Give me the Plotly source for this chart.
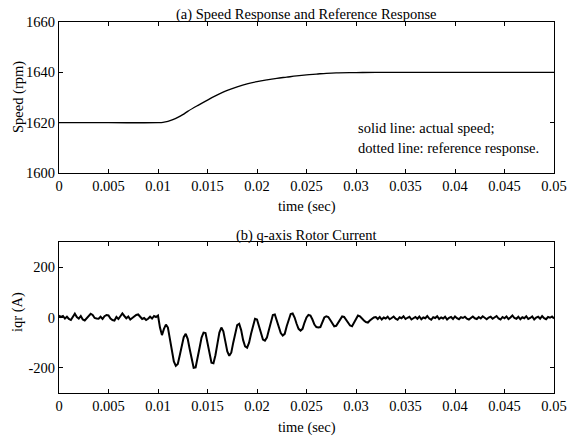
import numpy as np
import plotly.graph_objects as go
from plotly.subplots import make_subplots

# (a) rotor speed response
t_speed = [0, 0.005, 0.0100, 0.0105, 0.0110, 0.0115, 0.0120, 0.0125, 0.0130, 0.0140,
           0.0150, 0.0160, 0.0170, 0.0180, 0.0190, 0.0200, 0.0210, 0.0220, 0.0230, 0.0240,
           0.0250, 0.0260, 0.0270, 0.0280, 0.0300, 0.0320, 0.0350, 0.0400, 0.0450, 0.0500]
speed = [1620, 1620, 1620, 1620.1, 1620.5, 1621.2, 1622.1, 1623.2, 1624.5, 1626.8,
         1629.0, 1631.0, 1632.8, 1634.2, 1635.4, 1636.3, 1637.0, 1637.6, 1638.1, 1638.6,
         1639.0, 1639.3, 1639.6, 1639.8, 1639.9, 1640.0, 1640.0, 1640.0, 1640.0, 1640.0]

# (b) q-axis rotor current, sampled every 0.2 ms from 0 to 0.05 s
iqr_pre = [8, 2, 6, -4, 3, -6, -10, 4, 15, 2,
           -4, 6, -8, -12, -2, 5, 15, 10, -2, -4,
           -5, 3, -6, 5, 10, 8, -4, -10, -12, 2,
           -6, 5, 16, 6, -3, 4, -8, -2, 5, 10,
           12, 4, -6, -2, -10, -5, 3, -4, 6, 2, 8]
iqr_step = [-40, -70, -45, -28, -40, -90, -140, -175, -192, -185,
            -150, -110, -78, -65, -85, -125, -170, -200, -198, -165,
            -120, -80, -60, -62, -100, -145, -180, -182, -150, -105,
            -60, -40, -55, -95, -135, -152, -140, -100, -60, -30,
            -25, -50, -90, -115, -120, -100, -65, -30, -5, -8,
            -35, -65, -88, -92, -80, -50, -15, 10, 12, -10,
            -40, -62, -72, -65, -35, -5, 14, 16, 0, -25,
            -45, -52, -45, -20, 0, 10, 8, -8, -28, -38,
            -40, -38, -20, 0, 5, 2, -10, -25, -35, -33,
            -20, -5, 4, 2, -10, -22, -32, -35, -22, -5,
            8, 5, -5, -12, -18, -20, -12, -5, 0, 2]
iqr_steady = [-6, 2, -8, 0, -4, 3, -7, -2, 4, -5,
              -9, 1, -3, 5, -6, -1, 3, -8, -2, 2,
              -5, 4, -7, 0, -3, 6, -4, -9, 1, -2,
              5, -6, 0, -4, 3, -8, -1, 2, -6, 4,
              -3, -7, 1, -2, 3, -5, -8, 0, 4, -3,
              -6, 2, -4, 5, -2, -7, 0, 3, -5, -1,
              6, -4, -8, 2, -3, 4, -6, 0, 8, -2,
              -5, 3, -7, 1, -3, 5, -6, -2, 4, -8,
              0, 3, -5, 6, -3, -7, 2, -1, 4, -4]
iqr = iqr_pre + iqr_step + iqr_steady
t_iqr = np.linspace(0, 0.05, len(iqr))

x_ticks = [0, 0.005, 0.01, 0.015, 0.02, 0.025, 0.03, 0.035, 0.04, 0.045, 0.05]
x_labels = ["0", "0.005", "0.01", "0.015", "0.02", "0.025", "0.03", "0.035", "0.04", "0.045", "0.05"]
speed_ticks = [1600, 1620, 1640, 1660]
iqr_ticks = [-200, 0, 200]
iqr_labels = ["-200", "0", "200"]

W, H = 573, 437
FONT = "Liberation Serif"
FS = 14.5

fig = make_subplots(rows=2, cols=1)
fig.add_trace(go.Scatter(x=t_speed, y=speed, mode="lines", line=dict(color="black", width=1.4),
                         line_shape="spline", showlegend=False), row=1, col=1)
fig.add_trace(go.Scatter(x=t_iqr, y=iqr, mode="lines", line=dict(color="black", width=2.0),
                         showlegend=False), row=2, col=1)

axis_common = dict(showline=True, mirror="ticks", linecolor="black", linewidth=1,
                   ticks="inside", ticklen=4, tickcolor="black", showgrid=False, zeroline=False,
                   automargin=False,
                   tickfont=dict(family=FONT, size=FS, color="black"))

x0, x1 = 59 / W, 554 / W
fig.update_xaxes(domain=[x0, x1], range=[0, 0.05], tickvals=x_ticks, ticktext=x_labels, **axis_common)
fig.update_yaxes(axis_common)
fig.update_yaxes(domain=[1 - 173 / H, 1 - 22 / H], range=[1600, 1660], tickvals=speed_ticks, row=1, col=1)
fig.update_yaxes(domain=[1 - 393 / H, 1 - 242 / H], range=[-300, 300], tickvals=iqr_ticks,
                 ticktext=iqr_labels, row=2, col=1)

def text(x, y, s, xref="paper", yref="paper", xanchor="center", angle=0):
    fig.add_annotation(x=x, y=y, xref=xref, yref=yref, text=s, showarrow=False,
                       xanchor=xanchor, yanchor="middle", textangle=angle,
                       font=dict(family=FONT, size=FS, color="black"))

xc = (x0 + x1) / 2
text(xc, 1 - 14 / H, "(a) Speed Response and Reference Response")
text(xc, 1 - 207 / H, "time (sec)")
text(18 / W, 1 - 97 / H, "Speed (rpm)", angle=-90)
text(0.0300, 1618, "solid line: actual speed;", xref="x", yref="y", xanchor="left")
text(0.0300, 1610, "dotted line: reference response.", xref="x", yref="y", xanchor="left")
text(xc, 1 - 235 / H, "(b) q-axis Rotor Current")
text(xc, 1 - 427 / H, "time (sec)")
text(17 / W, 1 - 312 / H, "iqr (A)", angle=-90)

fig.update_layout(width=W, height=H, margin=dict(l=0, r=0, t=0, b=0),
                  paper_bgcolor="white", plot_bgcolor="white",
                  font=dict(family=FONT, size=FS, color="black"))

fig.write_html("out.html")
